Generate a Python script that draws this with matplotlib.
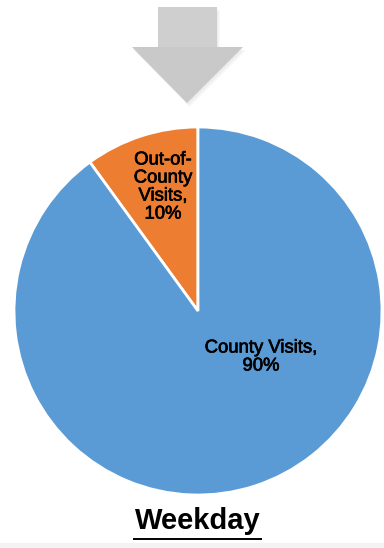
import matplotlib
matplotlib.use("Agg")
import matplotlib.pyplot as plt
import matplotlib.patheffects as pe
from matplotlib.patches import Polygon, Rectangle
import numpy as np

categories = ["Out-of-\nCounty\nVisits,", "County Visits,"]
values = [10, 90]
colors = ["#ED7D31", "#5B9BD5"]
title = "Weekday"

W, H = 384, 548
fig = plt.figure(figsize=(W / 100, H / 100), dpi=100)
fig.patch.set_facecolor("white")

# decorative arrow (figure pixel coordinates)
bg = fig.add_axes([0, 0, 1, 1])
bg.set_xlim(0, W)
bg.set_ylim(H, 0)
bg.axis("off")
arrow = [(158, 7), (217, 7), (217, 47), (243, 47), (187, 103), (132, 47), (158, 47)]
for k, a in enumerate([0.05, 0.05, 0.04]):
    sh = [(x + 1 + k, y + 2 + k) for x, y in arrow]
    bg.add_patch(Polygon(sh, closed=True, facecolor="#888888", alpha=a, edgecolor="none"))
bg.add_patch(Polygon(arrow, closed=True, facecolor="#c9c9c9", edgecolor="none"))
bg.add_patch(Polygon(arrow[:3] + [(158, 47)], closed=True, facecolor="#cfcfcf", edgecolor="none"))
# faint bottom band
bg.add_patch(Rectangle((0, 543), W, 5, facecolor="#f3f3f3", edgecolor="none"))

# pie
cx, cy, r = 198, 311, 184
ax = fig.add_axes([(cx - r) / W, (H - cy - r) / H, 2 * r / W, 2 * r / H])
wedges, _ = ax.pie(values, colors=colors, startangle=90, counterclock=True,
                   radius=1, wedgeprops=dict(edgecolor="white", linewidth=2.0))
ax.set_xlim(-1, 1)
ax.set_ylim(-1, 1)
ax.set_aspect("equal")
ax.axis("off")

thick = [pe.withStroke(linewidth=0.5, foreground="black")]
lab_pos = [((163 - cx) / r, (cy - 187) / r), ((261 - cx) / r, (cy - 357) / r)]
for name, v, (x, y) in zip(categories, values, lab_pos):
    ax.text(x, y, f"{name}\n{v}%", ha="center", va="center",
            fontsize=13.3, family="Liberation Sans", color="black",
            linespacing=1.08, path_effects=thick)

bg.text(197.5, 529.3, title, ha="center", va="baseline",
        fontsize=21, family="Liberation Sans", weight="bold", color="black")
bg.plot([133, 262], [538.5, 538.5], color="black", lw=1.4, solid_capstyle="butt")

fig.savefig("out.png", dpi=100, facecolor="white")
